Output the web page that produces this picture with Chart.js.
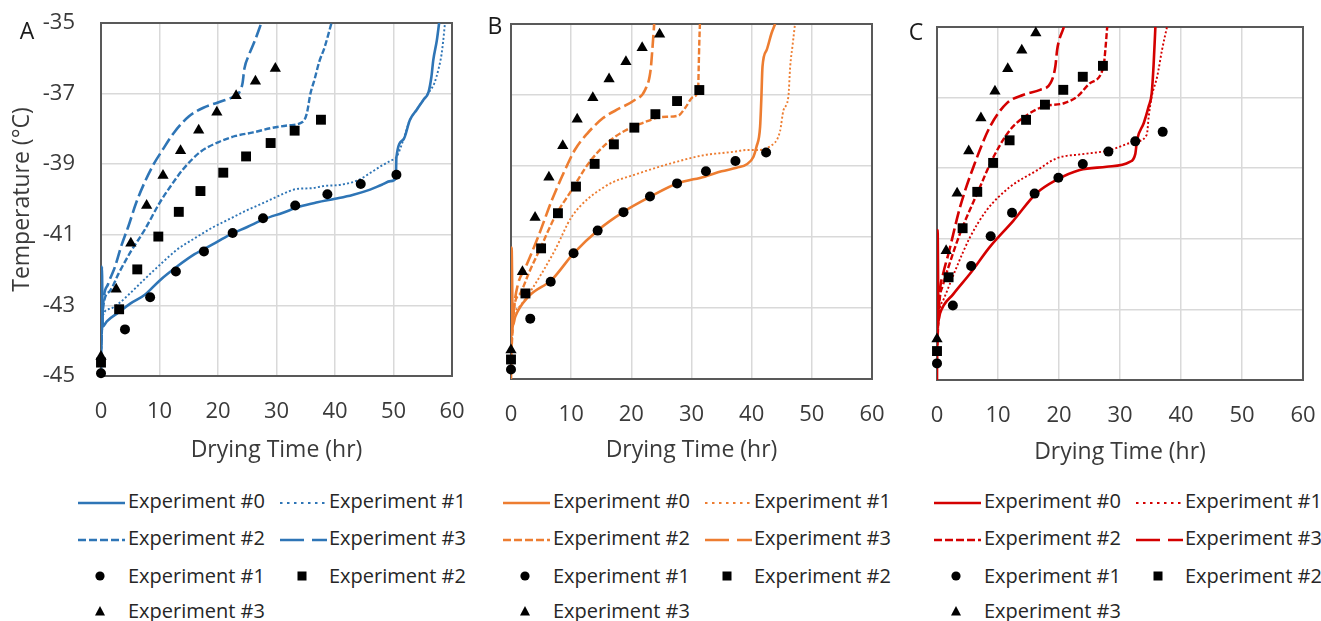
<!DOCTYPE html>
<html>
<head>
<meta charset="utf-8">
<script src="https://cdn.jsdelivr.net/npm/chart.js@4.4.0/dist/chart.umd.min.js"></script>
<style>
  html,body{margin:0;padding:0;background:#fff;}
  body{width:1321px;height:621px;position:relative;overflow:hidden;font-family:"Open Sans",sans-serif;}
  canvas{position:absolute;top:0;}
  .letter{position:absolute;font-size:23px;line-height:23px;color:#1a1a1a;transform:translate(-50%,-50%);}
  .leg{position:absolute;font-size:20px;line-height:24px;color:#262626;white-space:nowrap;transform:translateY(-50%);}
  .sw{position:absolute;transform:translateY(-50%);}
</style>
</head>
<body>
<canvas id="cA" width="470" height="470" style="left:0px"></canvas>
<canvas id="cB" width="420" height="470" style="left:470px"></canvas>
<canvas id="cC" width="431" height="470" style="left:890px"></canvas>
<div class="letter" style="left:27px;top:30px">A</div>
<div class="letter" style="left:495px;top:25px">B</div>
<div class="letter" style="left:916px;top:31px">C</div>
<div id="legends"></div>
<script>
// ---------------- data ----------------
const xTickValues = [0, 10, 20, 30, 40, 50, 60];
const yTickValues = [-45, -43, -41, -39, -37, -35];
const xTitle = 'Drying Time (hr)';
const yTitle = 'Temperature (°C)';
const lineLabels = ['Experiment #0', 'Experiment #1', 'Experiment #2', 'Experiment #3'];
const markerLabels = ['Experiment #1', 'Experiment #2', 'Experiment #3'];

// Panel A (blue)
const aExp0 = [[0,-45],[0.15,-41.9],[0.3,-43.6],[1,-43.45],[3,-43.2],[5,-42.95],[7.5,-42.7],[10,-42.3],[13,-41.9],[16,-41.55],[19,-41.28],[22,-41.0],[25,-40.78],[28,-40.55],[31,-40.38],[34,-40.2],[37,-40.08],[40,-39.98],[43,-39.87],[46,-39.72],[48,-39.58],[49.5,-39.48],[50.4,-39.4],[50.5,-38.8],[51.7,-38.3],[52.8,-37.75],[54,-37.45],[55.1,-37.18],[56,-36.95],[56.5,-36.5],[56.8,-36.05],[57.4,-35.5],[57.8,-35]];
const aExp1 = [[0,-44.6],[0.3,-43.3],[1.5,-43.1],[3,-42.95],[4.7,-42.7],[7.5,-42.25],[10.4,-41.8],[13,-41.42],[16,-41.1],[19,-40.8],[22,-40.55],[25,-40.3],[28,-40.08],[31,-39.85],[33.5,-39.7],[36,-39.68],[38,-39.62],[41,-39.58],[44,-39.45],[46,-39.25],[47.7,-39.07],[49.5,-38.9],[50.5,-38.8],[51.7,-38.3],[52.8,-37.75],[54,-37.45],[55.1,-37.18],[56.1,-36.95],[57,-36.7],[57.7,-36.3],[58.2,-35.9],[58.5,-35.5],[58.8,-35]];
const aExp2 = [[0,-44.3],[0.4,-43.0],[1.5,-42.6],[3,-42.1],[5,-41.5],[7.5,-40.85],[10,-40.1],[12,-39.6],[14,-39.15],[17,-38.65],[20,-38.38],[23,-38.2],[26,-38.1],[29,-37.98],[32,-37.9],[34.5,-37.8],[35.2,-37.55],[35.8,-37.0],[36.5,-36.6],[37.3,-36.1],[38.2,-35.7],[39.4,-35]];
const aExp3 = [[0,-44.2],[0.4,-42.9],[1.2,-42.4],[2.4,-41.9],[3.5,-41.3],[4.7,-40.75],[6,-40.1],[7.5,-39.5],[9,-39.0],[10.5,-38.6],[12.5,-38.1],[15,-37.65],[17.5,-37.4],[20,-37.25],[22.5,-37.1],[23.5,-37.0],[24.2,-36.7],[24.5,-36.3],[25.3,-35.9],[26.3,-35.5],[27.4,-35]];
const aCirc = [[0,-44.92],[4.1,-43.68],[8.4,-42.77],[12.8,-42.04],[17.6,-41.47],[22.5,-40.95],[27.7,-40.53],[33.2,-40.17],[38.7,-39.85],[44.4,-39.56],[50.5,-39.30]];
const aSq = [[0,-44.62],[3.1,-43.11],[6.2,-41.98],[9.8,-41.05],[13.3,-40.35],[17.0,-39.76],[20.9,-39.24],[24.8,-38.78],[29.0,-38.40],[33.1,-38.05],[37.6,-37.74]];
const aTri = [[0,-44.45],[2.6,-42.54],[5.1,-41.24],[7.8,-40.17],[10.6,-39.32],[13.6,-38.62],[16.7,-38.04],[19.8,-37.53],[23.1,-37.06],[26.4,-36.65],[29.8,-36.29]];

// Panel B (orange)
const bExp0 = [[0,-45],[0.1,-41.3],[0.3,-43.5],[0.7,-43.25],[2.9,-42.68],[6.8,-42.2],[10.4,-41.46],[14.5,-40.8],[18.7,-40.29],[23.1,-39.87],[27.5,-39.5],[32.2,-39.3],[35,-39.15],[37.5,-39.05],[39.2,-38.95],[40.3,-38.74],[40.8,-38.46],[41.4,-37.9],[41.6,-37.14],[41.8,-36.2],[42.5,-35.73],[43.3,-35.26],[43.9,-35]];
const bExp1 = [[0,-44.7],[0.3,-43.4],[1.2,-43.0],[3.4,-42.49],[7.3,-41.37],[10.1,-40.43],[15.6,-39.58],[21.2,-39.21],[26.7,-38.92],[32.2,-38.69],[34.7,-38.64],[37,-38.6],[39.2,-38.55],[40.8,-38.55],[43,-38.45],[44.7,-38.03],[45.3,-37.42],[46.1,-37.05],[46.4,-36.2],[46.8,-35.6],[47.2,-35]];
const bExp2 = [[0,-44.5],[0.5,-43.0],[1.5,-42.6],[3,-42.0],[5,-41.27],[7.3,-40.43],[10,-39.7],[13,-38.9],[16,-38.35],[19,-38.0],[22,-37.78],[25,-37.62],[27.8,-37.58],[29,-37.35],[30.3,-37.05],[31.1,-36.85],[31.2,-36.2],[31.3,-35.5],[31.4,-35]];
const bExp3 = [[0,-44.2],[0.5,-43.0],[1.2,-42.3],[2.3,-41.9],[4.5,-41.0],[6.8,-39.96],[9,-39.1],[10.6,-38.55],[12.6,-38.1],[15.3,-37.65],[18,-37.38],[20.5,-37.15],[22.3,-36.85],[23.2,-36.3],[23.5,-35.7],[23.8,-35]];
const bCirc = [[0,-44.73],[3.2,-43.30],[6.6,-42.26],[10.4,-41.46],[14.4,-40.82],[18.7,-40.30],[23.1,-39.86],[27.6,-39.49],[32.4,-39.15],[37.3,-38.86],[42.4,-38.62]];
const bSq = [[0,-44.45],[2.4,-42.59],[5.0,-41.32],[7.8,-40.33],[10.8,-39.58],[13.9,-38.94],[17.1,-38.39],[20.5,-37.92],[24.0,-37.54],[27.6,-37.17],[31.3,-36.86]];
const bTri = [[0,-44.18],[1.9,-41.98],[4.0,-40.45],[6.3,-39.32],[8.6,-38.43],[11.0,-37.68],[13.6,-37.08],[16.3,-36.55],[19.1,-36.06],[21.8,-35.67],[24.7,-35.29]];

// Panel C (red)
const cExp0 = [[0,-45],[0.1,-40.75],[0.25,-43.3],[0.5,-43.11],[2.7,-42.56],[5.4,-41.99],[8.7,-41.22],[12.5,-40.49],[16.3,-39.71],[19.6,-39.33],[23.4,-39.05],[27.8,-38.96],[31.6,-38.82],[32.5,-38.6],[32.8,-38.2],[33.9,-37.72],[34.7,-37.25],[35.2,-36.87],[35.5,-36.1],[35.8,-35]];
const cExp1 = [[0,-44.5],[0.3,-43.2],[1.0,-42.75],[3.2,-41.81],[5.4,-40.96],[8.1,-40.2],[11.9,-39.54],[16.3,-39.07],[19.6,-38.72],[23.9,-38.6],[28.1,-38.5],[32.5,-38.25],[34.4,-38.05],[34.7,-37.55],[35.2,-36.97],[36.1,-36.4],[36.9,-35.64],[37.7,-35]];
const cExp2 = [[0,-44.2],[0.4,-42.8],[1.0,-42.3],[1.9,-41.79],[3.8,-40.84],[6.6,-39.71],[9.3,-38.67],[12.0,-37.91],[14.8,-37.49],[17.5,-37.25],[20.8,-37.16],[23.0,-36.97],[25.1,-36.59],[27.3,-36.12],[27.6,-35.64],[27.9,-35]];
const cExp3 = [[0,-44],[0.4,-42.6],[1.0,-42.0],[1.9,-41.41],[3.8,-40.09],[6.0,-38.95],[8.7,-37.82],[11.5,-37.15],[14.2,-36.92],[16.9,-36.78],[18.6,-36.59],[19.4,-36.12],[19.7,-35.64],[20.8,-35]];
const cCirc = [[0,-44.53],[2.6,-42.89],[5.6,-41.77],[8.8,-40.93],[12.3,-40.26],[16.0,-39.72],[19.9,-39.27],[23.9,-38.88],[28.1,-38.53],[32.5,-38.24],[37.0,-37.97]];
const cSq = [[0,-44.18],[1.9,-42.09],[4.2,-40.70],[6.6,-39.67],[9.2,-38.85],[11.9,-38.21],[14.6,-37.63],[17.7,-37.20],[20.7,-36.78],[23.9,-36.41],[27.2,-36.10]];
const cTri = [[0,-43.84],[1.5,-41.34],[3.3,-39.71],[5.2,-38.51],[7.2,-37.58],[9.5,-36.82],[11.6,-36.18],[13.9,-35.66],[16.2,-35.17]];

// ---------------- styling ----------------
const FONT = '"Open Sans", sans-serif';
const TEXT = '#3a3a3a';
const GRID = '#d9d9d9';
const FRAME = '#595959';
const dashStyles = [[], [2, 2.2], [6, 2.5], [13, 4.5]];
const dashWidths = [2.6, 1.9, 2.4, 2.6];
const legendDash = ['', '2.5,4.5', '8,3', '24,8'];

const panels = [
  { id: 'cA', color: '#2E75B6', lines: [aExp0, aExp1, aExp2, aExp3], marks: [aCirc, aSq, aTri],
    showY: true, padTop: 23, padRight: 18, yW: 101, xH: 94, titleBottom: 6, legX: 78 },
  { id: 'cB', color: '#ED7D31', lines: [bExp0, bExp1, bExp2, bExp3], marks: [bCirc, bSq, bTri],
    showY: false, padTop: 24, padRight: 18, yW: 41, xH: 91, titleBottom: 6, legX: 503 },
  { id: 'cC', color: '#D40000', lines: [cExp0, cExp1, cExp2, cExp3], marks: [cCirc, cSq, cTri],
    showY: false, padTop: 27, padRight: 18, yW: 47, xH: 90, titleBottom: 4, legX: 934 }
];

const framePlugin = {
  id: 'frame',
  beforeDatasetsDraw(chart) {
    const { ctx, chartArea: a } = chart;
    ctx.save();
    ctx.strokeStyle = FRAME;
    ctx.lineWidth = 2;
    ctx.strokeRect(a.left, a.top, a.right - a.left, a.bottom - a.top);
    ctx.restore();
  }
};

const toPts = arr => arr.map(p => ({ x: p[0], y: p[1] }));
const markerStyles = ['circle', 'rect', 'triangle'];
const markerRadii = [5, 7, 6.5];

panels.forEach(p => {
  const datasets = [];
  p.lines.forEach((arr, i) => {
    datasets.push({
      label: lineLabels[i], data: toPts(arr), showLine: true,
      borderColor: p.color, backgroundColor: p.color,
      borderWidth: dashWidths[i], borderDash: dashStyles[i],
      pointRadius: 0, cubicInterpolationMode: 'monotone', order: 2
    });
  });
  p.marks.forEach((arr, i) => {
    datasets.push({
      label: markerLabels[i], data: toPts(arr), showLine: false,
      pointStyle: markerStyles[i], pointRadius: markerRadii[i],
      backgroundColor: '#000', borderColor: '#000', borderWidth: 0,
      clip: false, order: 1
    });
  });
  new Chart(document.getElementById(p.id), {
    type: 'scatter',
    data: { datasets },
    options: {
      responsive: false, animation: false, events: [],
      layout: { padding: { top: p.padTop, right: p.padRight, left: 0, bottom: 0 } },
      plugins: { legend: { display: false }, tooltip: { enabled: false } },
      scales: {
        x: {
          type: 'linear', min: 0, max: 60,
          afterBuildTicks: s => { s.ticks = xTickValues.map(v => ({ value: v })); },
          afterFit: s => { s.height = p.xH; },
          ticks: { padding: 0, color: TEXT, font: { family: FONT, size: 22 } },
          grid: { color: GRID, lineWidth: 1.5, drawTicks: true, tickLength: 23, tickColor: 'rgba(0,0,0,0)' },
          border: { display: false },
          title: { display: true, text: xTitle, color: TEXT, font: { family: FONT, size: 23 },
                   padding: { top: 0, bottom: p.titleBottom } }
        },
        y: {
          type: 'linear', min: -45, max: -35,
          afterBuildTicks: s => { s.ticks = yTickValues.map(v => ({ value: v })); },
          afterFit: s => { s.width = p.yW; },
          ticks: { display: p.showY, padding: 0, color: TEXT, font: { family: FONT, size: 22 } },
          grid: { color: GRID, lineWidth: 1.5, drawTicks: true, tickLength: 26, tickColor: 'rgba(0,0,0,0)' },
          border: { display: false },
          title: { display: p.showY, text: yTitle, color: TEXT, font: { family: FONT, size: 23 },
                   padding: { top: 9, bottom: 0 } }
        }
      }
    },
    plugins: [framePlugin]
  });
});

// ---------------- legends (HTML) ----------------
const rowsY = [501, 538, 576, 611];
const legendHost = document.getElementById('legends');
function lineSwatch(color, dash, width) {
  return `<svg width="47" height="8"><line x1="0" y1="4" x2="47" y2="4" stroke="${color}" stroke-width="${width}" ${dash ? `stroke-dasharray="${dash}"` : ''}/></svg>`;
}
function markerSwatch(kind) {
  if (kind === 0) return '<svg width="12" height="12"><circle cx="6" cy="6" r="4.6" fill="#000"/></svg>';
  if (kind === 1) return '<svg width="12" height="12"><rect x="1.5" y="1.5" width="9" height="9" fill="#000"/></svg>';
  return '<svg width="12" height="12"><polygon points="6,1 11,10.5 1,10.5" fill="#000"/></svg>';
}
function addEl(cls, left, top, html) {
  const d = document.createElement('div');
  d.className = cls;
  d.style.left = left + 'px';
  d.style.top = top + 'px';
  d.innerHTML = html;
  legendHost.appendChild(d);
}
panels.forEach(p => {
  const L = p.legX;
  const lineSlots = [[0, 0], [1, 0], [0, 1], [1, 1]];
  lineLabels.forEach((lab, i) => {
    const [col, row] = lineSlots[i];
    const sx = L + (col ? 202 : 0);
    const tx = L + (col ? 251 : 50);
    addEl('sw', sx, rowsY[row], lineSwatch(p.color, legendDash[i], i === 1 ? 2.2 : 2.5));
    addEl('leg', tx, rowsY[row], lab);
  });
  const markSlots = [[0, 2], [1, 2], [0, 3]];
  markerLabels.forEach((lab, i) => {
    const [col, row] = markSlots[i];
    const mx = L + (col ? 224 : 22) - 6;
    const tx = L + (col ? 251 : 50);
    addEl('sw', mx, rowsY[row], markerSwatch(i));
    addEl('leg', tx, rowsY[row], lab);
  });
});
</script>
</body>
</html>
